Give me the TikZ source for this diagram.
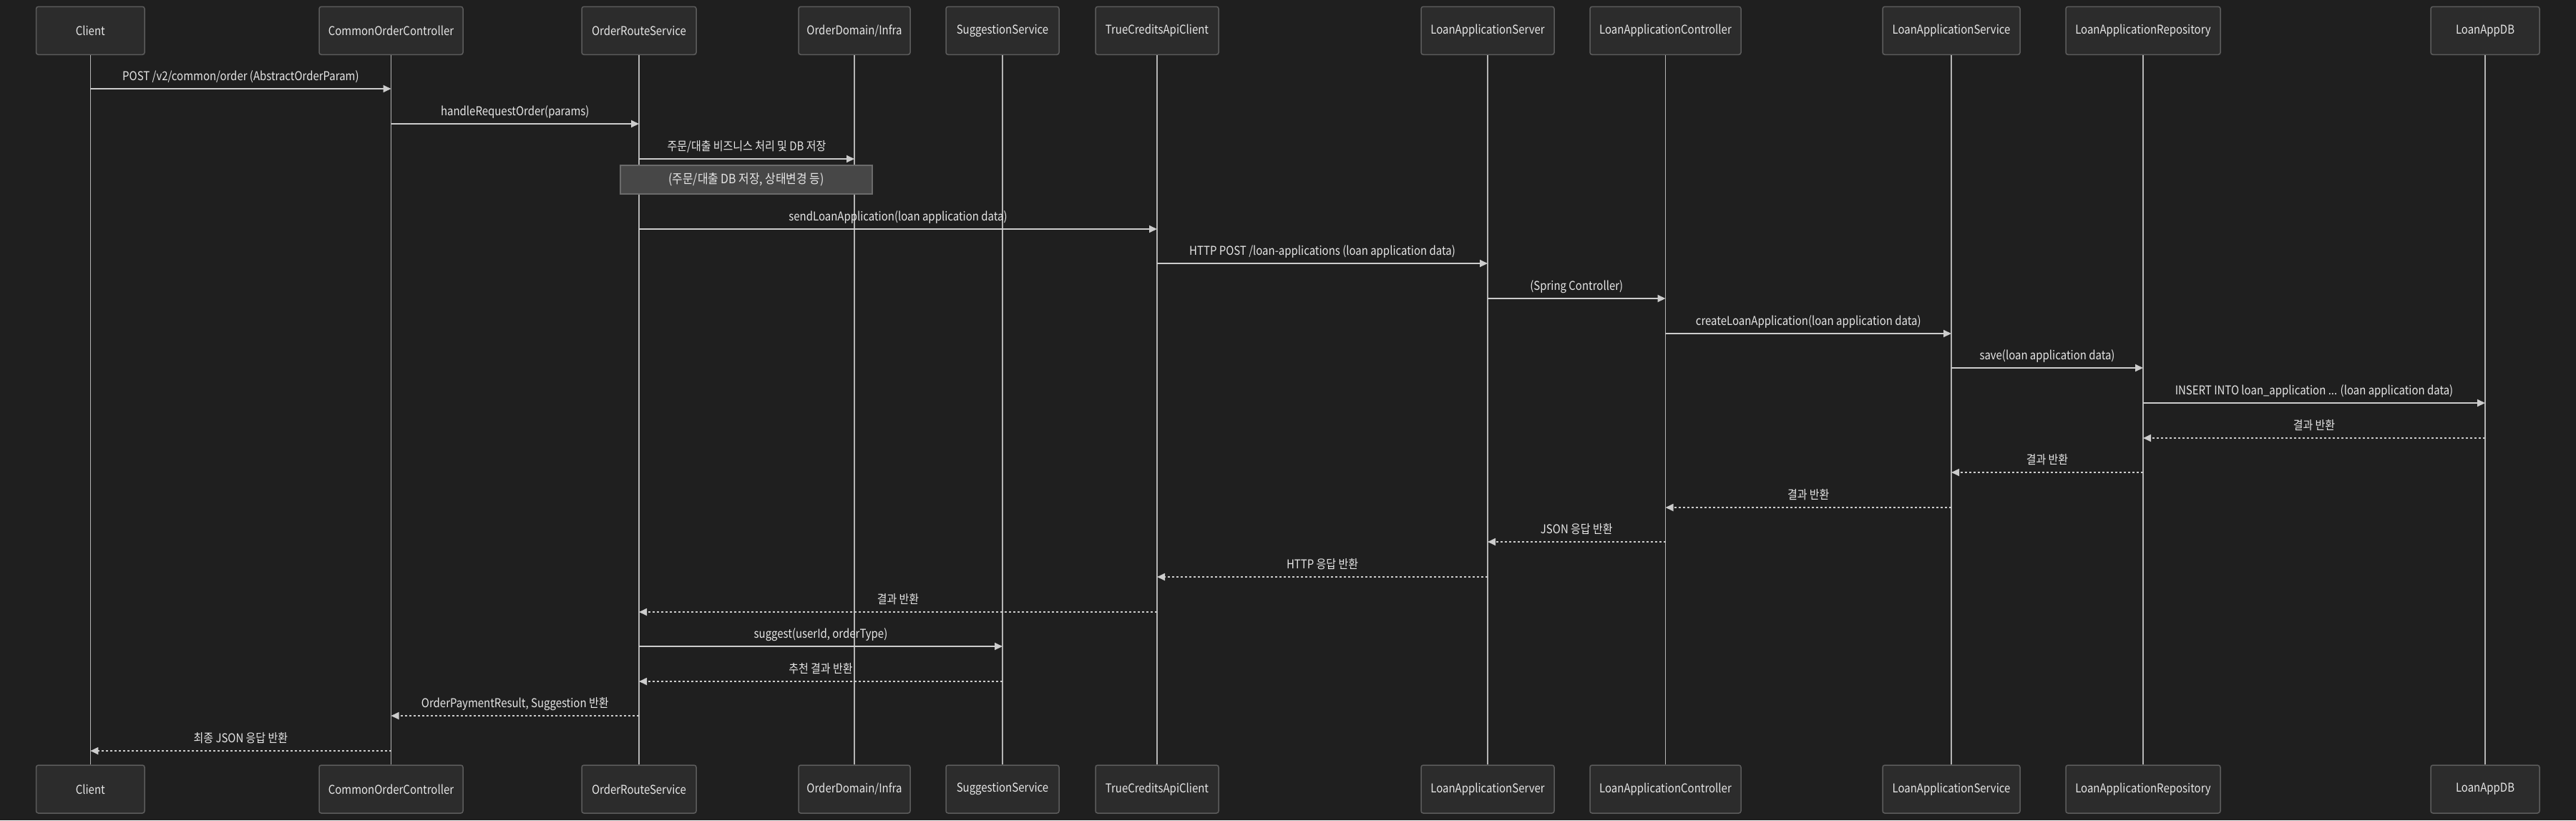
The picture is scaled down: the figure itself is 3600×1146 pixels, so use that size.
\documentclass[tikz,border=0pt]{standalone}
\usepackage{fontspec}
\setmainfont{Noto Sans CJK KR}[FakeStretch=0.88]
\usetikzlibrary{arrows.meta}
\definecolor{bg}{HTML}{1F1F1F}
\definecolor{boxfill}{HTML}{2C2C2C}
\definecolor{boxline}{HTML}{5C5C5C}
\definecolor{txt}{HTML}{E6E6E6}
\definecolor{lifec}{HTML}{B4B4B4}
\definecolor{arrc}{HTML}{CCCCCC}
\definecolor{notefill}{HTML}{474747}
\definecolor{noteline}{HTML}{6B6B6B}
\tikzset{
  pbox/.style={draw=boxline, fill=boxfill, line width=1.5pt, rounded corners=3pt,
    minimum height=67pt, inner sep=0pt, text=txt, font=\fontsize{17}{20}\selectfont},
  life/.style={draw=lifec, line width=1.4pt},
  msg/.style={draw=arrc, line width=1.8pt, -{Triangle[length=11pt,width=10pt]}},
  ret/.style={msg, dash pattern=on 3pt off 3pt},
  lbl/.style={midway, anchor=base, yshift=12pt, text=txt, inner sep=0pt,
    font=\fontsize{17}{20}\selectfont},
  notebox/.style={draw=noteline, fill=notefill, line width=1.5pt, inner sep=0pt,
    text=txt, font=\fontsize{18}{21}\selectfont}
}
\newcommand\participant[4]{%
  \node[pbox, minimum width=#3pt] (t#1) at (#2,42.8) {#4};
  \node[pbox, minimum width=#3pt] (b#1) at (#2,1102.5) {#4};
  \draw[life] (t#1.south) -- (b#1.north);}
\newcommand\msgline[5]{%
  \draw[#1] (t#2 |- 0,#4) -- node[lbl]{#5} (t#3 |- 0,#4);}
\begin{document}
\begin{tikzpicture}[x=1pt,y=-1pt]
\fill[bg] (0,0) rectangle (3600,1146);
\useasboundingbox (0,0) rectangle (3600,1146);
\participant{Client}{126.3}{151.5}{Client}
\participant{COC}{546.5}{201}{CommonOrderController}
\participant{ORS}{893}{160}{OrderRouteService}
\participant{ODI}{1194}{156}{OrderDomain/Infra}
\participant{SUG}{1401}{158}{SuggestionService}
\participant{TCA}{1617}{172}{TrueCreditsApiClient}
\participant{LAS}{2079}{186}{LoanApplicationServer}
\participant{LAC}{2327.5}{211}{LoanApplicationController}
\participant{LSV}{2727}{192}{LoanApplicationService}
\participant{LAR}{2995}{216}{LoanApplicationRepository}
\participant{DB}{3473}{152}{LoanAppDB}
\msgline{msg}{Client}{COC}{124}{POST /v2/common/order (AbstractOrderParam)}
\msgline{msg}{COC}{ORS}{173}{handleRequestOrder(params)}
\msgline{msg}{ORS}{ODI}{222}{주문/대출 비즈니스 처리 및 DB 저장}
\node[notebox, minimum width=352pt, minimum height=40pt] (note) at (1043,251) {(주문/대출 DB 저장, 상태변경 등)};
\msgline{msg}{ORS}{TCA}{320}{sendLoanApplication(loan application data)}
\msgline{msg}{TCA}{LAS}{368}{HTTP POST /loan-applications (loan application data)}
\msgline{msg}{LAS}{LAC}{417}{(Spring Controller)}
\msgline{msg}{LAC}{LSV}{466}{createLoanApplication(loan application data)}
\msgline{msg}{LSV}{LAR}{514}{save(loan application data)}
\msgline{msg}{LAR}{DB}{563}{INSERT INTO loan\_application ... (loan application data)}
\msgline{ret}{DB}{LAR}{612}{결과 반환}
\msgline{ret}{LAR}{LSV}{660}{결과 반환}
\msgline{ret}{LSV}{LAC}{709}{결과 반환}
\msgline{ret}{LAC}{LAS}{757}{JSON 응답 반환}
\msgline{ret}{LAS}{TCA}{806}{HTTP 응답 반환}
\msgline{ret}{TCA}{ORS}{855}{결과 반환}
\msgline{msg}{ORS}{SUG}{903}{suggest(userId, orderType)}
\msgline{ret}{SUG}{ORS}{952}{추천 결과 반환}
\msgline{ret}{ORS}{COC}{1000}{OrderPaymentResult, Suggestion 반환}
\msgline{ret}{COC}{Client}{1049}{최종 JSON 응답 반환}
\end{tikzpicture}
\end{document}
